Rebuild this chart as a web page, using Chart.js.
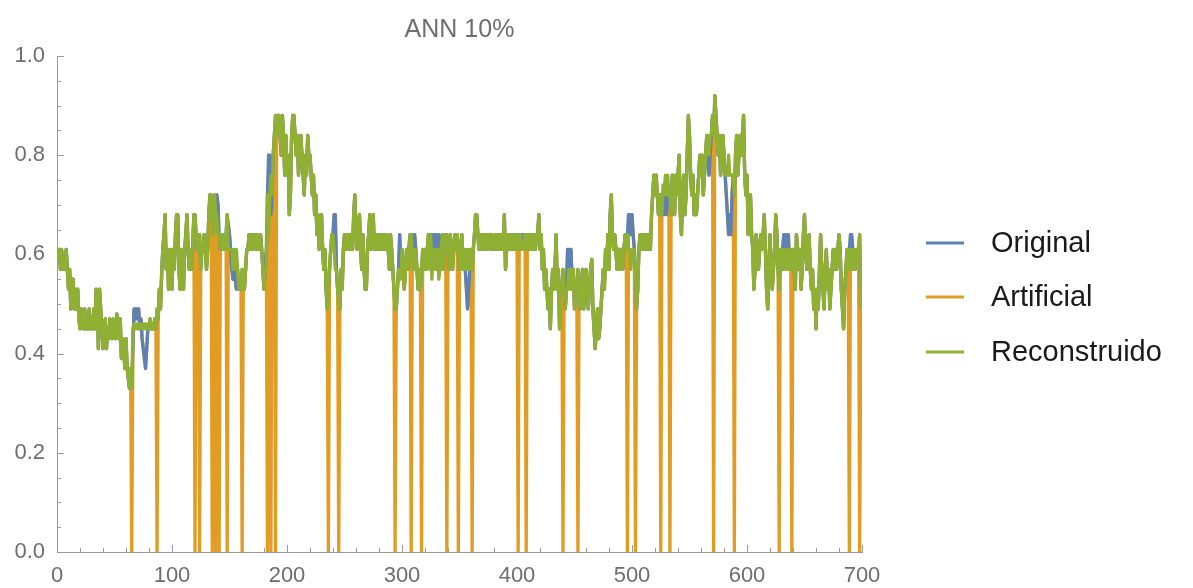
<!DOCTYPE html>
<html>
<head>
<meta charset="utf-8">
<script src="https://cdn.jsdelivr.net/npm/chart.js@4.4.1/dist/chart.umd.min.js"></script>
<style>
  html, body { margin: 0; padding: 0; background: #ffffff; }
  #wrap { width: 1193px; height: 588px; }
</style>
</head>
<body>
<div id="wrap"><canvas id="c" width="1193" height="588"></canvas></div>
<script>
// ---- data -------------------------------------------------------------
const chartTitle = 'ANN 10%';
const seriesNames = ['Original', 'Artificial', 'Reconstruido'];
const xTickValues = [0, 100, 200, 300, 400, 500, 600, 700];
const yTickValues = [0.0, 0.2, 0.4, 0.6, 0.8, 1.0];

// measured signal, one value per sample (samples 0..699)
const original = [
  0.61,0.59,0.61,0.57,0.61,0.57,0.59,0.57,0.61,0.57, 0.53,0.57,0.49,0.53,0.55,0.49,0.53,0.49,0.53,0.47,
  0.45,0.49,0.47,0.45,0.49,0.45,0.47,0.45,0.49,0.45, 0.47,0.45,0.49,0.45,0.53,0.51,0.41,0.53,0.49,0.45,
  0.41,0.45,0.47,0.41,0.45,0.43,0.47,0.45,0.43,0.47, 0.45,0.43,0.48,0.45,0.43,0.47,0.39,0.43,0.41,0.37,
  0.43,0.37,0.35,0.33,0.37,0.33,0.41,0.49,0.49,0.47, 0.49,0.49,0.45,0.47,0.43,0.41,0.39,0.37,0.41,0.45,
  0.45,0.47,0.45,0.46,0.45,0.47,0.45,0.49,0.47,0.53, 0.49,0.56,0.61,0.64,0.68,0.57,0.61,0.53,0.57,0.61,
  0.53,0.61,0.57,0.64,0.68,0.68,0.57,0.53,0.61,0.57, 0.53,0.61,0.64,0.68,0.61,0.57,0.61,0.57,0.61,0.68,
  0.68,0.64,0.61,0.61,0.64,0.57,0.61,0.61,0.64,0.61, 0.57,0.61,0.68,0.72,0.72,0.68,0.64,0.72,0.68,0.72,
  0.70,0.64,0.61,0.61,0.64,0.61,0.61,0.64,0.68,0.66, 0.64,0.61,0.57,0.55,0.57,0.55,0.53,0.57,0.53,0.55,
  0.53,0.57,0.55,0.53,0.57,0.61,0.61,0.64,0.61,0.64, 0.61,0.64,0.64,0.61,0.64,0.61,0.61,0.64,0.61,0.57,
  0.53,0.57,0.61,0.72,0.80,0.80,0.68,0.72,0.80,0.84, 0.88,0.84,0.88,0.88,0.84,0.80,0.88,0.84,0.76,0.84,
  0.76,0.80,0.68,0.72,0.84,0.88,0.88,0.84,0.80,0.84, 0.76,0.80,0.84,0.80,0.76,0.72,0.80,0.76,0.84,0.80,
  0.80,0.76,0.72,0.76,0.68,0.72,0.64,0.68,0.61,0.64, 0.68,0.61,0.57,0.61,0.53,0.49,0.53,0.57,0.61,0.64,
  0.64,0.68,0.68,0.57,0.53,0.51,0.49,0.57,0.53,0.61, 0.64,0.61,0.64,0.61,0.64,0.61,0.64,0.61,0.68,0.72,
  0.64,0.61,0.64,0.68,0.61,0.57,0.64,0.57,0.53,0.53, 0.61,0.64,0.68,0.61,0.64,0.68,0.61,0.64,0.61,0.64,
  0.61,0.64,0.61,0.64,0.61,0.64,0.61,0.64,0.61,0.57, 0.64,0.61,0.57,0.53,0.49,0.49,0.53,0.57,0.64,0.57,
  0.61,0.57,0.53,0.57,0.61,0.57,0.61,0.64,0.64,0.64, 0.61,0.64,0.61,0.57,0.53,0.57,0.53,0.57,0.61,0.57,
  0.61,0.57,0.61,0.64,0.61,0.64,0.64,0.61,0.64,0.61, 0.64,0.61,0.64,0.57,0.61,0.64,0.57,0.64,0.61,0.64,
  0.61,0.57,0.64,0.61,0.57,0.61,0.64,0.61,0.64,0.61, 0.57,0.61,0.64,0.57,0.61,0.57,0.53,0.49,0.53,0.57,
  0.61,0.57,0.61,0.64,0.68,0.68,0.64,0.61,0.64,0.61, 0.64,0.64,0.61,0.64,0.61,0.64,0.64,0.61,0.64,0.61,
  0.61,0.64,0.61,0.64,0.61,0.64,0.61,0.64,0.61,0.68, 0.57,0.61,0.64,0.64,0.61,0.64,0.61,0.64,0.61,0.64,
  0.64,0.61,0.64,0.64,0.64,0.64,0.61,0.64,0.61,0.64, 0.61,0.64,0.61,0.64,0.61,0.64,0.61,0.64,0.64,0.68,
  0.61,0.64,0.57,0.61,0.53,0.57,0.53,0.49,0.53,0.45, 0.53,0.57,0.53,0.57,0.64,0.53,0.57,0.45,0.53,0.53,
  0.57,0.53,0.49,0.53,0.61,0.61,0.57,0.61,0.53,0.57, 0.49,0.53,0.53,0.57,0.53,0.49,0.53,0.57,0.49,0.53,
  0.57,0.53,0.49,0.53,0.57,0.59,0.49,0.45,0.41,0.45, 0.49,0.43,0.45,0.49,0.53,0.57,0.53,0.61,0.57,0.64,
  0.57,0.68,0.72,0.64,0.61,0.64,0.61,0.57,0.61,0.61, 0.57,0.61,0.57,0.61,0.64,0.61,0.64,0.68,0.68,0.64,
  0.68,0.64,0.61,0.57,0.49,0.53,0.61,0.64,0.61,0.64, 0.61,0.64,0.61,0.64,0.61,0.64,0.61,0.68,0.72,0.76,
  0.72,0.76,0.72,0.68,0.72,0.72,0.68,0.72,0.68,0.72, 0.68,0.72,0.72,0.72,0.68,0.76,0.72,0.68,0.76,0.72,
  0.76,0.80,0.68,0.64,0.72,0.76,0.68,0.72,0.80,0.88, 0.84,0.76,0.72,0.76,0.68,0.72,0.68,0.72,0.76,0.80,
  0.76,0.80,0.72,0.76,0.80,0.84,0.80,0.76,0.80,0.84, 0.88,0.84,0.92,0.88,0.84,0.80,0.84,0.76,0.80,0.84,
  0.80,0.76,0.72,0.68,0.64,0.68,0.64,0.72,0.76,0.72, 0.80,0.84,0.76,0.80,0.84,0.80,0.84,0.88,0.76,0.72,
  0.76,0.64,0.68,0.72,0.64,0.61,0.53,0.57,0.64,0.61, 0.57,0.61,0.64,0.61,0.64,0.68,0.61,0.53,0.49,0.57,
  0.64,0.57,0.53,0.57,0.61,0.68,0.64,0.57,0.53,0.61, 0.57,0.61,0.64,0.64,0.61,0.64,0.64,0.57,0.61,0.57,
  0.61,0.57,0.53,0.64,0.61,0.57,0.61,0.53,0.57,0.64, 0.68,0.61,0.57,0.61,0.64,0.57,0.53,0.57,0.49,0.53,
  0.45,0.53,0.49,0.57,0.64,0.57,0.53,0.49,0.57,0.61, 0.53,0.57,0.49,0.53,0.57,0.61,0.57,0.61,0.57,0.61,
  0.64,0.61,0.53,0.49,0.45,0.53,0.57,0.61,0.57,0.61, 0.64,0.64,0.61,0.61,0.57,0.61,0.59,0.61,0.64,0.49
];

// samples blanked out (set to zero) in the artificial series
const gapSamples = [
  65, 87, 120, 124, 135, 138, 141, 148, 161, 183, 186, 190, 236, 245, 294, 308, 317,
  339, 349, 361, 401, 408, 440, 453, 496, 503, 525, 533, 571, 589, 628, 639, 689, 698
];

// samples where the reconstruction differs from the original: [sample, value]
const reconDiffs = [
  [66,0.45],[67,0.46],[68,0.45],[69,0.46],[70,0.45],[71,0.46],[72,0.45],[73,0.46],
  [74,0.45],[75,0.45],[76,0.46],[77,0.45],[78,0.46],[79,0.45],
  [139,0.68],[140,0.64],[149,0.61],[150,0.61],[152,0.61],[153,0.57],[154,0.61],[155,0.57],[156,0.61],
  [182,0.57],[184,0.64],[185,0.72],[186,0.76],
  [241,0.61],[242,0.57],
  [298,0.57],[299,0.55],[309,0.57],[311,0.57],
  [324,0.57],[326,0.55],[328,0.57],[330,0.57],[332,0.55],
  [356,0.61],[357,0.57],[358,0.61],
  [402,0.61],[404,0.61],[405,0.62],
  [444,0.53],[445,0.57],[446,0.53],[447,0.57],
  [497,0.61],[498,0.61],[499,0.57],[500,0.61],[501,0.61],
  [527,0.74],[528,0.72],[529,0.76],[530,0.72],[531,0.76],
  [566,0.84],[567,0.80],[568,0.84],
  [582,0.76],[583,0.76],[584,0.80],[585,0.76],[586,0.76],[587,0.76],
  [632,0.57],[633,0.61],[634,0.57],[635,0.61],[636,0.57],
  [690,0.57],[691,0.61],[692,0.57]
];

// ---- series assembly ----------------------------------------------------
const gapSet = new Set(gapSamples);
const artificial = original.map((v, i) => (gapSet.has(i) ? 0 : v));
const reconstructed = original.slice();
reconDiffs.forEach(([i, v]) => { reconstructed[i] = v; });
const toPoints = arr => arr.map((v, i) => ({ x: i, y: v }));

// ---- styling -------------------------------------------------------------
const COLORS = ['#5e81b5', '#e19c24', '#8fb032'];
const FONT = '"Liberation Sans", Arial, Helvetica, sans-serif';
const AXIS_COLOR = '#9b9b9b';
const LABEL_COLOR = '#6e6e6e';

// inward tick marks, Mathematica-like axes
const axisTicks = {
  id: 'axisTicks',
  beforeDatasetsDraw(chart) {
    const { ctx, scales: { x, y } } = chart;
    ctx.save();
    ctx.strokeStyle = AXIS_COLOR;
    ctx.lineWidth = 1;
    ctx.beginPath();
    for (let v = 0; v <= 700; v += 20) {
      const px = Math.round(x.getPixelForValue(v)) + 0.5;
      const len = v % 100 === 0 ? 7 : 4;
      ctx.moveTo(px, y.bottom);
      ctx.lineTo(px, y.bottom - len);
    }
    for (let k = 0; k <= 20; k++) {
      const v = k * 0.05;
      const py = Math.round(y.getPixelForValue(v)) + 0.5;
      const len = k % 4 === 0 ? 7 : 4;
      ctx.moveTo(x.left, py);
      ctx.lineTo(x.left + len, py);
    }
    ctx.stroke();
    ctx.restore();
  }
};

// title above the plot and line legend on the right
const titleAndLegend = {
  id: 'titleAndLegend',
  afterDraw(chart) {
    const { ctx, chartArea } = chart;
    ctx.save();
    ctx.fillStyle = LABEL_COLOR;
    ctx.font = '25px ' + FONT;
    ctx.textAlign = 'center';
    ctx.textBaseline = 'middle';
    ctx.fillText(chartTitle, (chartArea.left + chartArea.right) / 2, 30);

    const rows = [243, 297, 352];
    // legend follows the series order: Original, Artificial, Reconstruido
    chart.data.datasets.forEach((ds, i) => {
      const yy = rows[i];
      ctx.strokeStyle = ds.borderColor;
      ctx.lineWidth = 3;
      ctx.beginPath();
      ctx.moveTo(926, yy);
      ctx.lineTo(964, yy);
      ctx.stroke();
      ctx.fillStyle = '#1a1a1a';
      ctx.font = '29px ' + FONT;
      ctx.textAlign = 'left';
      ctx.textBaseline = 'middle';
      ctx.fillText(ds.label, 991, yy + 1);
    });
    ctx.restore();
  }
};

// higher "order" is painted first: Artificial underneath, Reconstruido on top
const lineStyle = (idx, order) => ({
  label: seriesNames[idx],
  borderColor: COLORS[idx],
  backgroundColor: COLORS[idx],
  borderWidth: 3.3,
  pointRadius: 0,
  pointHoverRadius: 0,
  tension: 0,
  fill: false,
  borderJoinStyle: 'round',
  order: order
});

new Chart(document.getElementById('c'), {
  type: 'line',
  data: {
    datasets: [
      Object.assign({ data: toPoints(original) }, lineStyle(0, 2)),
      Object.assign({ data: toPoints(artificial) }, lineStyle(1, 3)),
      Object.assign({ data: toPoints(reconstructed) }, lineStyle(2, 1))
    ]
  },
  options: {
    responsive: false,
    animation: false,
    devicePixelRatio: 1,
    parsing: false,
    normalized: true,
    layout: { padding: { left: 0, right: 331, top: 56, bottom: 0 } },
    plugins: {
      legend: { display: false },
      title: { display: false },
      tooltip: { enabled: false }
    },
    scales: {
      x: {
        type: 'linear',
        min: 0,
        max: 700,
        afterFit(scale) { scale.height = 36; },
        afterBuildTicks(scale) { scale.ticks = xTickValues.map(v => ({ value: v })); },
        grid: { display: false, drawTicks: false },
        border: { display: true, color: AXIS_COLOR, width: 1 },
        ticks: {
          padding: 11,
          color: LABEL_COLOR,
          font: { family: FONT, size: 22 },
          maxRotation: 0,
          autoSkip: false,
          callback: v => String(v)
        }
      },
      y: {
        type: 'linear',
        min: 0,
        max: 1,
        afterFit(scale) { scale.width = 57; },
        afterBuildTicks(scale) { scale.ticks = yTickValues.map(v => ({ value: v })); },
        grid: { display: false, drawTicks: false },
        border: { display: true, color: AXIS_COLOR, width: 1 },
        ticks: {
          padding: 12,
          color: LABEL_COLOR,
          font: { family: FONT, size: 22 },
          autoSkip: false,
          callback: v => Number(v).toFixed(1)
        }
      }
    }
  },
  plugins: [axisTicks, titleAndLegend]
});
</script>
</body>
</html>
